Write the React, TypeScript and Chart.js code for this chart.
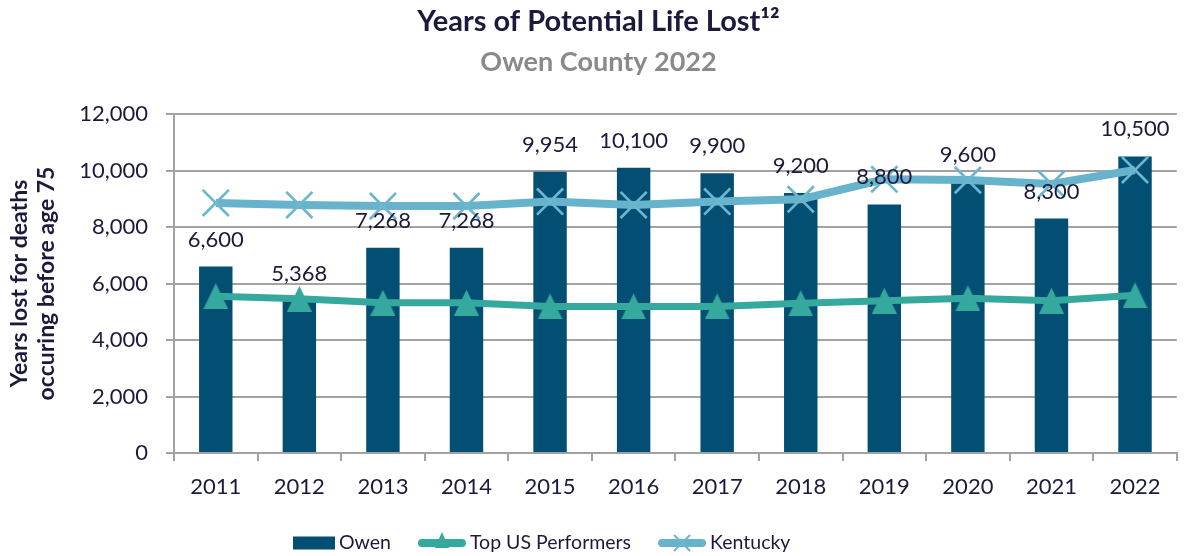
import React, { useEffect, useRef } from 'react';
import { Chart, registerables } from 'chart.js';

Chart.register(...registerables);

const years = ['2011', '2012', '2013', '2014', '2015', '2016', '2017', '2018', '2019', '2020', '2021', '2022'];
const owenValues = [6600, 5368, 7268, 7268, 9954, 10100, 9900, 9200, 8800, 9600, 8300, 10500];
const topUSValues = [5550, 5460, 5320, 5320, 5190, 5190, 5190, 5300, 5390, 5480, 5390, 5580];
const kentuckyValues = [8850, 8780, 8740, 8740, 8900, 8780, 8900, 8980, 9690, 9660, 9520, 10020];
const yMin = 0;
const yMax = 12000;
const yStep = 2000;

const seriesNames = ['Owen', 'Top US Performers', 'Kentucky'];
const chartTitle = 'Years of Potential Life Lost\u00B9\u00B2';
const chartSubtitle = 'Owen County 2022';
const yAxisTitle = ['Years lost for deaths', 'occuring before age 75'];

const TEXT = '#1c1a3c';
const GRID = '#a2a2a2';
const BAR = '#024f73';
const TEAL = '#35a99e';
const LIGHTBLUE = '#67b3cb';
const FONT = 'Lato';

const fmt = (v: number) => v.toLocaleString('en-US');

function makeTriangle(w: number, h: number, color: string) {
  const c = document.createElement('canvas');
  c.width = w;
  c.height = h;
  const ctx = c.getContext('2d')!;
  ctx.fillStyle = color;
  ctx.beginPath();
  ctx.moveTo(w / 2, 0);
  ctx.lineTo(w, h);
  ctx.lineTo(0, h);
  ctx.closePath();
  ctx.fill();
  return c;
}

const dataLabelPlugin = {
  id: 'barValueLabels',
  afterDraw(chart: any) {
    const ctx = chart.ctx;
    const meta = chart.getDatasetMeta(0);
    const values = chart.data.datasets[0].data;
    ctx.save();
    ctx.font = `22px ${FONT}`;
    ctx.fillStyle = TEXT;
    ctx.textAlign = 'center';
    ctx.textBaseline = 'middle';
    meta.data.forEach((bar: any, i: number) => {
      ctx.fillText(fmt(values[i]), bar.x, bar.y - 27);
    });
    ctx.restore();
  },
};

const legendPlugin = {
  id: 'manualLegend',
  afterDraw(chart: any) {
    const ctx = chart.ctx;
    const y = 543;
    let x = 293;
    ctx.save();
    ctx.font = `19.5px ${FONT}`;
    ctx.textBaseline = 'middle';
    ctx.textAlign = 'left';
    chart.data.datasets.forEach((ds: any) => {
      if (ds.type === 'bar' || !ds.type) {
        ctx.fillStyle = ds.backgroundColor;
        ctx.fillRect(x, y - 6.5, 42, 13);
        x += 42;
      } else {
        const w = 48;
        ctx.strokeStyle = ds.borderColor;
        ctx.lineWidth = 8;
        ctx.lineCap = 'round';
        ctx.beginPath();
        ctx.moveTo(x + 4, y);
        ctx.lineTo(x + w - 4, y);
        ctx.stroke();
        const cx = x + w / 2;
        if (ds.label === seriesNames[1]) {
          ctx.fillStyle = ds.borderColor;
          ctx.beginPath();
          ctx.moveTo(cx, y - 11);
          ctx.lineTo(cx + 7, y + 5);
          ctx.lineTo(cx - 7, y + 5);
          ctx.closePath();
          ctx.fill();
        } else {
          const r = 8;
          ctx.strokeStyle = ds.pointBorderColor;
          ctx.lineWidth = 2;
          ctx.lineCap = 'butt';
          ctx.beginPath();
          ctx.moveTo(cx - r, y - r);
          ctx.lineTo(cx + r, y + r);
          ctx.moveTo(cx + r, y - r);
          ctx.lineTo(cx - r, y + r);
          ctx.stroke();
        }
        x += w;
      }
      x += 4;
      ctx.fillStyle = TEXT;
      ctx.fillText(ds.label, x, y);
      x += ctx.measureText(ds.label).width + 27;
    });
    ctx.restore();
  },
};

export default function App() {
  const canvasRef = useRef<HTMLCanvasElement | null>(null);

  useEffect(() => {
    if (!canvasRef.current) return;
    const tri = makeTriangle(25, 26, TEAL);
    const chart = new Chart(canvasRef.current, {
      type: 'bar',
      data: {
        labels: years,
        datasets: [
          {
            type: 'bar',
            label: seriesNames[0],
            data: owenValues,
            backgroundColor: BAR,
            barPercentage: 0.4,
            categoryPercentage: 1,
            order: 3,
          } as any,
          {
            type: 'line',
            label: seriesNames[1],
            data: topUSValues,
            borderColor: TEAL,
            borderWidth: 7,
            pointStyle: tri,
            pointRadius: 13,
            pointBackgroundColor: TEAL,
            pointBorderColor: TEAL,
            tension: 0,
            order: 2,
          } as any,
          {
            type: 'line',
            label: seriesNames[2],
            data: kentuckyValues,
            borderColor: LIGHTBLUE,
            borderWidth: 8,
            pointStyle: 'crossRot',
            pointRadius: 18.5,
            pointBorderColor: '#6cb6ce',
            pointBorderWidth: 2.7,
            tension: 0,
            order: 1,
          } as any,
        ],
      },
      options: {
        responsive: false,
        animation: false,
        layout: { padding: { left: 0, right: 1, top: 0, bottom: 56 } },
        plugins: {
          legend: { display: false },
          tooltip: { enabled: false },
          title: {
            display: true,
            text: chartTitle,
            color: TEXT,
            font: { family: FONT, size: 29, weight: 'bold', lineHeight: 1.2 },
            padding: { top: 4.6, bottom: 3 },
          },
          subtitle: {
            display: true,
            text: chartSubtitle,
            color: '#8a8a8a',
            font: { family: FONT, size: 27, weight: 'bold', lineHeight: 1.2 },
            padding: { top: 3.4, bottom: 35.8 },
          },
        },
        scales: {
          x: {
            offset: true,
            afterFit: (scale: any) => {
              scale.height = 47;
            },
            grid: {
              display: true,
              drawOnChartArea: false,
              drawTicks: true,
              offset: true,
              tickLength: 8,
              color: GRID,
              lineWidth: 2,
            },
            border: { display: true, color: GRID, width: 2 },
            ticks: {
              color: TEXT,
              font: { family: FONT, size: 22 },
              padding: 13,
              maxRotation: 0,
            },
          },
          y: {
            min: yMin,
            max: yMax,
            afterFit: (scale: any) => {
              scale.width = 174;
            },
            grid: {
              color: GRID,
              lineWidth: 2,
              tickLength: 8,
            },
            border: { display: true, color: GRID, width: 2 },
            ticks: {
              stepSize: yStep,
              color: TEXT,
              font: { family: FONT, size: 22 },
              padding: 18,
              callback: (v: any) => fmt(Number(v)),
            },
            title: {
              display: true,
              text: yAxisTitle,
              color: TEXT,
              font: { family: FONT, size: 23, weight: 'bold', lineHeight: 1.17 },
              padding: { top: 6.5, bottom: 0 },
            },
          },
        },
      },
      plugins: [dataLabelPlugin, legendPlugin],
    });
    return () => chart.destroy();
  }, []);

  return (
    <div style={{ position: 'absolute', left: 0, top: 0, width: 1191, height: 556, overflow: 'hidden', background: '#fff' }}>
      <canvas ref={canvasRef} width={1198} height={556} style={{ display: 'block' }} />
    </div>
  );
}
